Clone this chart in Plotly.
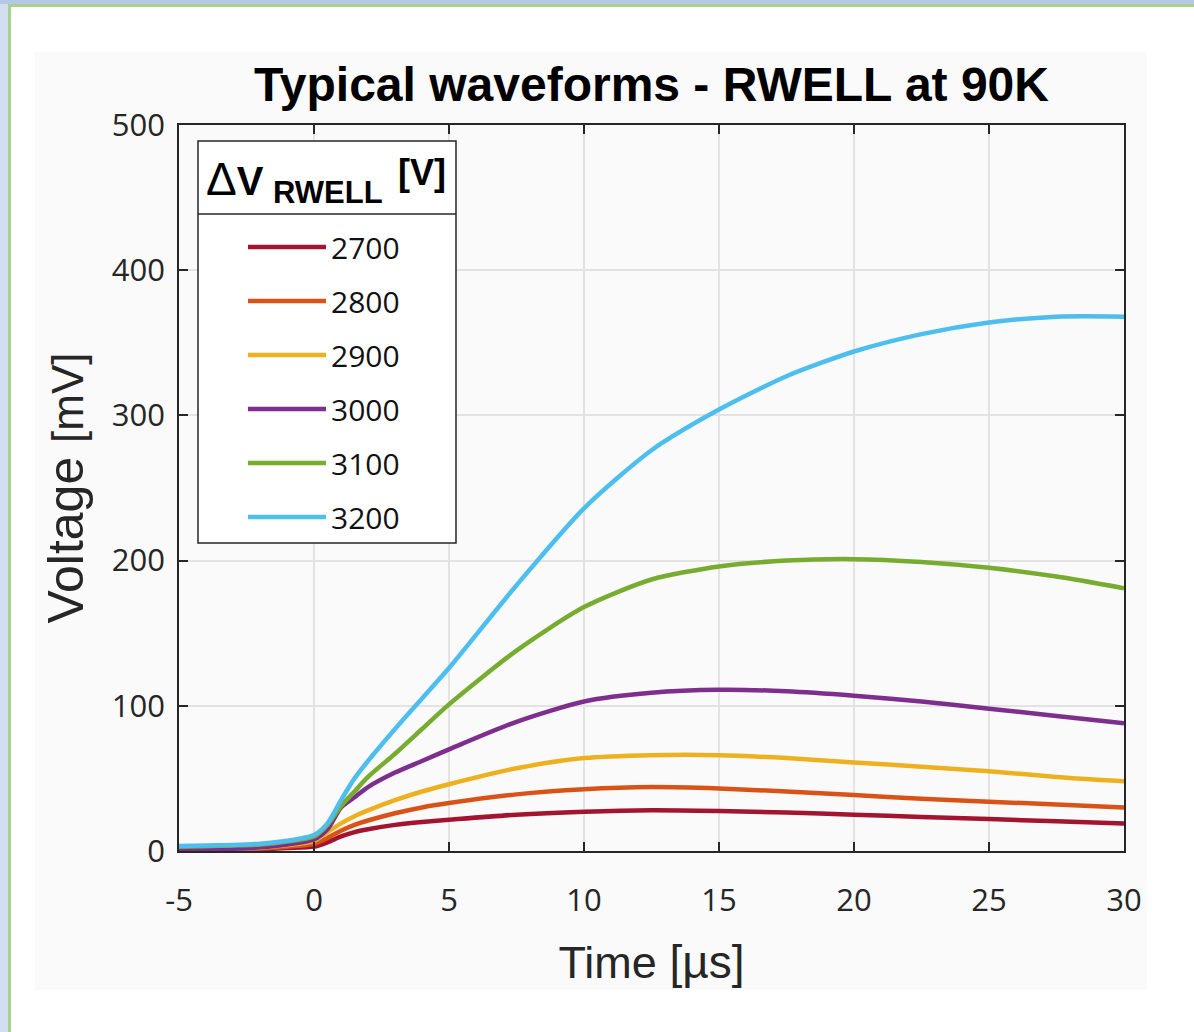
import plotly.graph_objects as go

# ---- data ----
time_us = [-5, -4, -3, -2, -1, 0, 0.5, 1, 1.5, 2, 3, 4, 5, 7.5, 10, 12.5, 15, 17.5, 20, 22.5, 25, 27.5, 30]

v2700 = [0.5, 0.6, 0.8, 1.2, 2, 3, 6, 10, 13, 15, 18, 20, 21.5, 25, 27, 28, 27.5, 26.5, 25, 23.5, 22, 20.5, 19]
v2800 = [0.8, 1, 1.3, 1.8, 3, 5, 9, 14, 18, 21, 26, 30, 33, 39, 42.5, 44, 43, 41, 38.5, 36, 34, 32, 30]
v2900 = [1, 1.2, 1.6, 2.3, 4, 7, 13, 19, 24, 28, 35, 41, 46, 57, 64, 66, 66, 64, 61, 58, 55, 51, 48]
v3000 = [0.5, 0.8, 1.5, 2.5, 4.5, 8, 15, 30, 37, 44, 54, 62, 70, 89, 103, 109, 111, 110, 107, 103, 98, 93, 88]
v3100 = [3, 3.3, 3.8, 4.5, 6.5, 10, 18, 31, 41, 51, 67, 84, 101, 138, 168, 187, 196, 200, 201, 199, 195, 189, 181]
v3200 = [3.5, 3.8, 4.2, 5, 7, 11, 19, 35, 50, 62, 84, 105, 126, 183, 236, 276, 304, 327, 344, 356, 364, 368, 368]

series_names = ["2700", "2800", "2900", "3000", "3100", "3200"]
series_values = [v2700, v2800, v2900, v3000, v3100, v3200]
series_colors = ["#A2142F", "#D95319", "#EDB120", "#7E2F8E", "#77AC30", "#4DBEEE"]

x_ticks = [-5, 0, 5, 10, 15, 20, 25, 30]
y_ticks = [0, 100, 200, 300, 400, 500]

# ---- figure ----
W, H = 1194, 1032
L, R, T, B = 179, 70, 125, 181
pw, ph = W - L - R, H - T - B


def px_x(p):
    return (p - L) / pw


def px_y(p):
    return (H - B - p) / ph


fig = go.Figure()
for name, vals, col in zip(series_names, series_values, series_colors):
    fig.add_trace(go.Scatter(
        x=time_us, y=vals, mode="lines", name=name, legendgroup=name,
        line=dict(color=col, width=4.5, shape="spline", smoothing=0.7),
    ))

tick_font = dict(family="Open Sans, Noto Sans, sans-serif", size=31, color="#262626")
sans = "Liberation Sans, Arial, sans-serif"

fig.update_layout(
    width=W, height=H, autosize=False,
    margin=dict(l=L, r=R, t=T, b=B),
    paper_bgcolor="white", plot_bgcolor="white",
    title=dict(
        text="<b>Typical waveforms - RWELL at 90K</b>",
        font=dict(family=sans, size=48, color="black"),
        x=px_x(651.5), xref="paper", xanchor="center",
        y=1 - 84 / H, yref="container", yanchor="middle",
    ),
    xaxis=dict(
        range=[-5, 30], tickvals=x_ticks, ticktext=[str(v) for v in x_ticks],
        showgrid=True, gridcolor="#e3e3e3", gridwidth=1.5, zeroline=False,
        showline=True, linecolor="#262626", linewidth=1.5, mirror="ticks",
        ticks="inside", ticklen=9, tickwidth=1.5, tickcolor="#262626",
        tickfont=tick_font, ticklabelstandoff=21,
        title=dict(text="Time <span style='font-size:46px'>[µs]</span>",
                   font=dict(family=sans, size=45, color="#262626"),
                   standoff=28),
    ),
    yaxis=dict(
        range=[0, 500], tickvals=y_ticks, ticktext=[str(v) for v in y_ticks],
        showgrid=True, gridcolor="#e3e3e3", gridwidth=1.5, zeroline=False,
        showline=True, linecolor="#262626", linewidth=1.5, mirror="ticks",
        ticks="inside", ticklen=9, tickwidth=1.5, tickcolor="#262626",
        tickfont=tick_font, ticklabelstandoff=6,
        title=dict(text="Voltage <span style='font-size:44px'>[mV]</span>",
                   font=dict(family=sans, size=50, color="#262626"),
                   standoff=12),
    ),
    legend=dict(
        x=px_x(243), y=px_y(221), xanchor="left", yanchor="top",
        bgcolor="rgba(0,0,0,0)", borderwidth=0,
        font=dict(family="Open Sans, Noto Sans, sans-serif", size=30, color="#111111"),
        tracegroupgap=12, itemwidth=78,
    ),
    showlegend=True,
)

shapes = []
# page decoration: grey figure panel, blue strips, green border
shapes.append(dict(type="rect", xref="paper", yref="paper", layer="below",
                   x0=px_x(35), x1=px_x(1147), y0=px_y(990), y1=px_y(52),
                   fillcolor="#fafafa", line=dict(width=0)))
shapes.append(dict(type="rect", xref="paper", yref="paper", layer="above",
                   x0=px_x(0), x1=px_x(8), y0=px_y(1032), y1=px_y(0),
                   fillcolor="#d3dff1", line=dict(width=0)))
shapes.append(dict(type="rect", xref="paper", yref="paper", layer="above",
                   x0=px_x(0), x1=px_x(1194), y0=px_y(4), y1=px_y(0),
                   fillcolor="#b4c7e7", line=dict(width=0)))
shapes.append(dict(type="rect", xref="paper", yref="paper", layer="above",
                   x0=px_x(8), x1=px_x(11), y0=px_y(1032), y1=px_y(4),
                   fillcolor="#a9d18e", line=dict(width=0)))
shapes.append(dict(type="rect", xref="paper", yref="paper", layer="above",
                   x0=px_x(8), x1=px_x(1194), y0=px_y(7), y1=px_y(4),
                   fillcolor="#a9d18e", line=dict(width=0)))
# legend box with header separator
shapes.append(dict(type="rect", xref="paper", yref="paper", layer="above",
                   x0=px_x(198), x1=px_x(456), y0=px_y(543), y1=px_y(141),
                   fillcolor="white", line=dict(color="#262626", width=1.5)))
shapes.append(dict(type="line", xref="paper", yref="paper", layer="above",
                   x0=px_x(198), x1=px_x(456), y0=px_y(214), y1=px_y(214),
                   line=dict(color="#262626", width=1.5)))
fig.update_layout(shapes=shapes)

# legend header
fig.add_annotation(text="<span style='font-size:46px'>Δ</span><b>V</b>", xref="paper", yref="paper",
                   x=px_x(204), y=px_y(179), xanchor="left", yanchor="middle",
                   showarrow=False, font=dict(family=sans, size=40, color="black"))
fig.add_annotation(text="<b>RWELL</b>", xref="paper", yref="paper",
                   x=px_x(271), y=px_y(192), xanchor="left", yanchor="middle",
                   showarrow=False, font=dict(family=sans, size=31, color="black"))
fig.add_annotation(text="<b>[V]</b>", xref="paper", yref="paper",
                   x=px_x(396), y=px_y(172), xanchor="left", yanchor="middle",
                   showarrow=False, font=dict(family=sans, size=36, color="black"))

fig.write_html("out.html", config={"displayModeBar": False},
               post_script="document.body.style.margin='0';document.body.style.overflow='hidden';")
